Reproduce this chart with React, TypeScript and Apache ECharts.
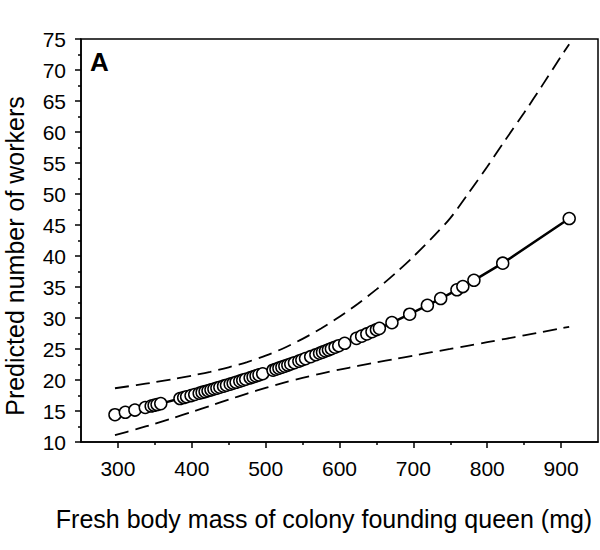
import React, { useEffect, useRef } from 'react';
import * as echarts from 'echarts';

const FONT = '"Liberation Sans", Arial, Helvetica, sans-serif';

// Fresh body mass of each founding queen (mg) and the model's predicted worker count
const massMg = [
  296, 310, 323, 337, 345, 349, 353, 358,
  384, 389, 393, 399, 404, 410, 414, 418, 422, 426,
  430, 434, 438, 443, 447, 452, 456, 460, 465, 469,
  473, 479, 483, 487, 491, 496,
  510, 514, 518, 522, 526, 530, 534, 539, 545, 549,
  554, 561, 568, 573, 577, 581, 585, 589, 594, 599,
  607, 623, 630, 637, 644, 650, 654,
  671, 695, 719, 737, 759, 767, 782, 821, 911,
];
const predictedWorkers = [
  14.4, 14.79, 15.15, 15.56, 15.8, 15.92, 16.04, 16.19,
  17.01, 17.17, 17.3, 17.49, 17.66, 17.86, 18.0, 18.13, 18.27, 18.41,
  18.55, 18.69, 18.83, 19.01, 19.16, 19.34, 19.48, 19.63, 19.82, 19.97,
  20.12, 20.35, 20.5, 20.66, 20.82, 21.01,
  21.58, 21.74, 21.91, 22.07, 22.24, 22.41, 22.58, 22.79, 23.05, 23.23,
  23.45, 23.76, 24.08, 24.31, 24.49, 24.68, 24.86, 25.05, 25.29, 25.53,
  25.92, 26.72, 27.07, 27.43, 27.8, 28.11, 28.33,
  29.25, 30.61, 32.03, 33.14, 34.55, 35.07, 36.08, 38.84, 46.04,
];

// 95% confidence band around the prediction
const ciMass = [
  296, 325, 350, 375, 400, 425, 450, 475, 500, 525, 550, 575, 600,
  625, 650, 675, 700, 725, 750, 775, 800, 825, 850, 875, 900, 911,
];
const ciUpper = [
  18.67, 19.17, 19.64, 20.14, 20.7, 21.32, 22.05, 22.9, 23.93, 25.17, 26.63, 28.31, 30.2,
  32.31, 34.61, 37.14, 39.9, 42.89, 46.11, 50.2, 54.4, 58.8, 63.1, 67.6, 72.2, 74.17,
];
const ciLower = [
  11.11, 12.07, 12.95, 13.88, 14.85, 15.84, 16.84, 17.81, 18.73, 19.58, 20.34, 21.03, 21.67,
  22.26, 22.83, 23.39, 23.93, 24.48, 25.01, 25.56, 26.1, 26.65, 27.2, 27.76, 28.33, 28.58,
];

const majorXTicks = [300, 400, 500, 600, 700, 800, 900];
const minorXTicks = [350, 450, 550, 650, 750, 850];

const panelLabel = 'A';
const xTitle = 'Fresh body mass of colony founding queen (mg)';
const yTitle = 'Predicted number of workers';

export default function App() {
  const ref = useRef<HTMLDivElement>(null);

  useEffect(() => {
    const chart = echarts.init(ref.current!, null, { renderer: 'svg' });
    const black = '#000';
    const axisLine = { show: true, lineStyle: { color: black, width: 1.5 } };
    const labelStyle = { color: black, fontSize: 21, fontFamily: FONT };

    chart.setOption({
      animation: false,
      backgroundColor: '#fff',
      grid: {
        left: 81,
        right: 2,
        top: 39,
        bottom: 108,
        show: true,
        borderColor: black,
        borderWidth: 1.5,
        backgroundColor: 'transparent',
      },
      xAxis: [
        {
          type: 'value',
          min: 250,
          max: 950,
          interval: 50,
          axisLine,
          axisTick: {
            show: true,
            customValues: majorXTicks,
            length: 6,
            lineStyle: { color: black, width: 1.5 },
          },
          axisLabel: { ...labelStyle, customValues: majorXTicks, margin: 16 },
          splitLine: { show: false },
        },
        {
          type: 'value',
          min: 250,
          max: 950,
          interval: 50,
          position: 'bottom',
          axisLine: { show: false },
          axisTick: {
            show: true,
            customValues: minorXTicks,
            length: 3,
            lineStyle: { color: black, width: 1.5 },
          },
          axisLabel: { show: false },
          splitLine: { show: false },
        },
      ],
      yAxis: {
        type: 'value',
        min: 10,
        max: 75,
        interval: 5,
        axisLine,
        axisTick: { show: true, length: 6, lineStyle: { color: black, width: 1.5 } },
        minorTick: { show: true, splitNumber: 2, length: 3, lineStyle: { color: black, width: 1.5 } },
        axisLabel: { ...labelStyle, margin: 15 },
        splitLine: { show: false },
        minorSplitLine: { show: false },
      },
      graphic: [
        {
          type: 'text',
          left: 90,
          top: 49,
          style: { text: panelLabel, fontSize: 26, fontWeight: 'bold', fontFamily: FONT, fill: black },
        },
        {
          type: 'text',
          x: 324,
          y: 519,
          style: {
            text: xTitle,
            fontSize: 25,
            fontFamily: FONT,
            fill: black,
            align: 'center',
            verticalAlign: 'middle',
          },
        },
        {
          type: 'text',
          x: 15,
          y: 256,
          rotation: Math.PI / 2,
          style: {
            text: yTitle,
            fontSize: 25,
            fontFamily: FONT,
            fill: black,
            align: 'center',
            verticalAlign: 'middle',
          },
        },
      ],
      series: [
        {
          type: 'line',
          xAxisIndex: 0,
          data: ciMass.map((m, i) => [m, ciUpper[i]]),
          smooth: 0.3,
          symbol: 'none',
          lineStyle: { color: black, width: 1.8, type: [14, 7] },
          z: 2,
        },
        {
          type: 'line',
          xAxisIndex: 0,
          data: ciMass.map((m, i) => [m, ciLower[i]]),
          smooth: 0.3,
          symbol: 'none',
          lineStyle: { color: black, width: 1.8, type: [14, 7] },
          z: 2,
        },
        {
          type: 'line',
          xAxisIndex: 0,
          data: massMg.map((m, i) => [m, predictedWorkers[i]]),
          symbol: 'circle',
          symbolSize: 12,
          showAllSymbol: true,
          lineStyle: { color: black, width: 2.5 },
          itemStyle: { color: '#fff', borderColor: black, borderWidth: 1.5 },
          z: 3,
        },
      ],
    });

    return () => chart.dispose();
  }, []);

  return (
    <div
      ref={ref}
      style={{ position: 'absolute', left: 0, top: 0, width: 600, height: 550, background: '#fff' }}
    />
  );
}
